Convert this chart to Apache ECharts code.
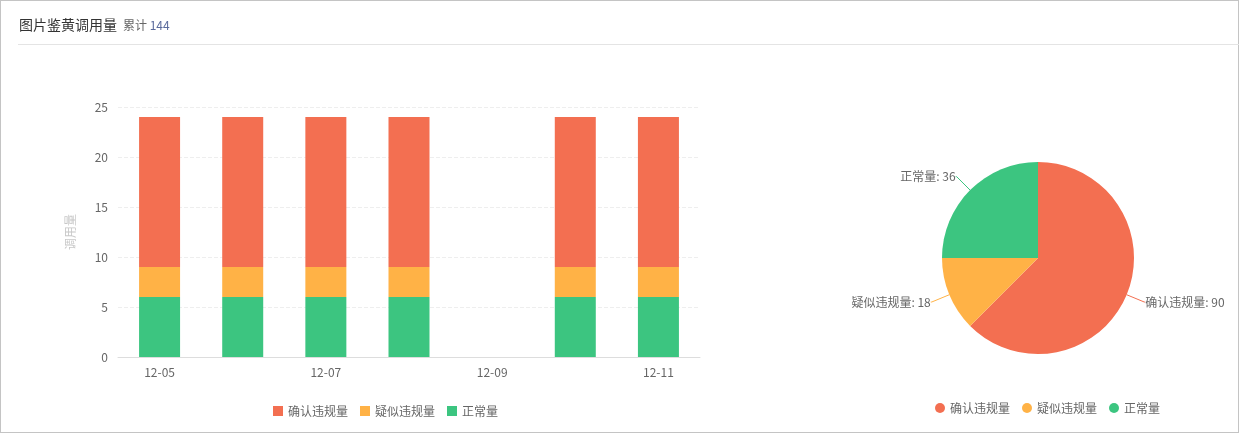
<!DOCTYPE html>
<html>
<head>
<meta charset="utf-8">
<script src="https://cdn.jsdelivr.net/npm/echarts@6/dist/echarts.min.js"></script>
<style>
html,body{margin:0;padding:0;background:#fff;font-family:"Noto Sans CJK SC","Noto Sans",sans-serif;}
#wrap{position:absolute;left:0;top:0;width:1237px;height:431px;border:1px solid #c4c4c4;}
#header{position:absolute;left:18px;top:0;right:0;height:44px;border-bottom:1px solid #e4e4e4;}
#title{position:absolute;left:1px;top:14px;font-size:14px;color:#333;line-height:20px;white-space:nowrap;}
#title .sub{font-size:12px;color:#666;margin-left:6px;}
#title .num{color:#5b6b9c;}
#chart{position:absolute;left:0;top:0;width:1239px;height:433px;}
</style>
</head>
<body>
<div id="wrap"></div>
<div id="chart"></div>
<div id="header"><div id="title">图片鉴黄调用量<span class="sub">累计 <span class="num">144</span></span></div></div>
<script>
const categories = ['12-05','12-06','12-07','12-08','12-09','12-10','12-11'];
const seriesNames = ['确认违规量','疑似违规量','正常量'];
const confirmed = [15,15,15,15,0,15,15];
const suspected = [3,3,3,3,0,3,3];
const normal = [6,6,6,6,0,6,6];
const pieValues = [90,18,36];
const colors = ['#F36F51','#FFB246','#3CC580'];

const chart = echarts.init(document.getElementById('chart'));
const textStyle = {fontFamily:'"Noto Sans CJK SC","Noto Sans",sans-serif'};
chart.setOption({
  animation:false,
  color:colors,
  textStyle:textStyle,
  legend:[{
    data:seriesNames,
    left:268, top:400,
    itemWidth:10, itemHeight:10, itemGap:12,
    icon:'rect',
    textStyle:{color:'#666',fontSize:12}
  },{
    data:seriesNames,
    left:930, top:397,
    itemWidth:10, itemHeight:10, itemGap:12,
    icon:'circle',
    textStyle:{color:'#666',fontSize:12}
  }],
  grid:{left:118, right:539, top:107, bottom:76},
  xAxis:{
    type:'category',
    data:categories,
    axisLine:{lineStyle:{color:'#ddd'}},
    axisTick:{alignWithLabel:true, interval:1, lineStyle:{color:'#ddd'}},
    axisLabel:{interval:1, color:'#666', fontSize:12, margin:9}
  },
  yAxis:{
    type:'value',
    min:0, max:25, interval:5,
    name:'调用量',
    nameLocation:'middle',
    nameGap:42,
    nameRotate:90,
    nameTextStyle:{color:'#c8c8c8', fontSize:12},
    axisLine:{show:false},
    axisTick:{show:false},
    axisLabel:{color:'#666', fontSize:12, margin:10},
    splitLine:{lineStyle:{color:'#eee', type:'dashed'}}
  },
  series:[
    {name:'正常量', type:'bar', stack:'a', data:normal, barWidth:41, itemStyle:{color:colors[2]}},
    {name:'疑似违规量', type:'bar', stack:'a', data:suspected, barWidth:41, itemStyle:{color:colors[1]}},
    {name:'确认违规量', type:'bar', stack:'a', data:confirmed, barWidth:41, itemStyle:{color:colors[0]}},
    {
      type:'pie',
      center:[1038,258],
      radius:96,
      startAngle:90,
      label:{formatter:'{b}: {c}', color:'#666', fontSize:12, distanceToLabelLine:0},
      labelLine:{length:19, length2:1},
      data:seriesNames.map((n,i)=>({name:n, value:pieValues[i], itemStyle:{color:colors[i]}}))
    }
  ]
});
</script>
</body>
</html>
